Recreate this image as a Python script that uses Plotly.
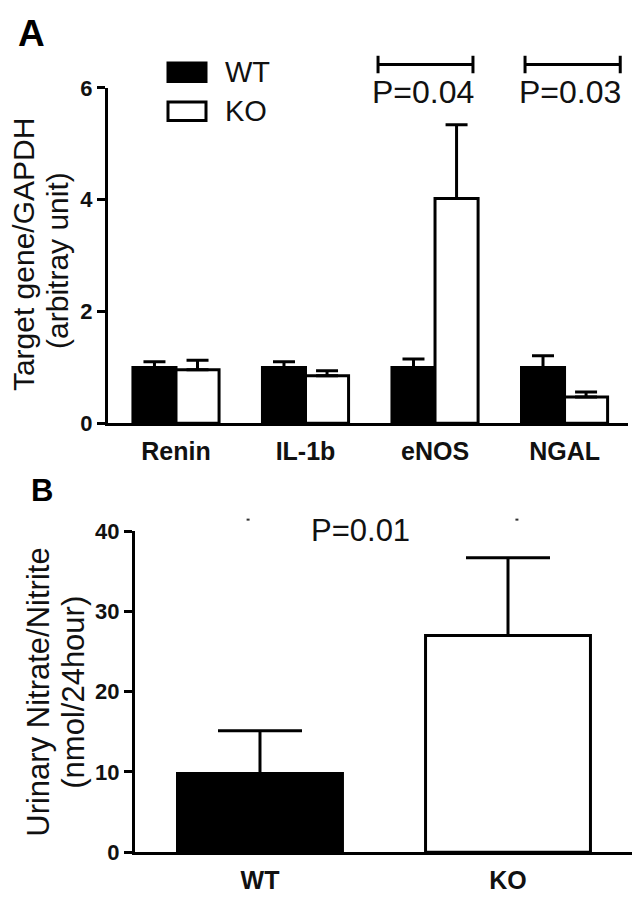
import plotly.graph_objects as go

# ---------------- data ----------------
genes = ["Renin", "IL-1b", "eNOS", "NGAL"]
wt_expr = [1.00, 1.00, 1.00, 1.00]
wt_expr_err_top = [1.10, 1.10, 1.15, 1.21]
ko_expr = [0.96, 0.85, 4.02, 0.47]
ko_expr_err_top = [1.13, 0.94, 5.34, 0.56]
expr_ticks = [0, 2, 4, 6]

groups = ["WT", "KO"]
nitrate = [9.8, 27.0]
nitrate_err_top = [15.15, 36.7]
nitrate_ticks = [0, 10, 20, 30, 40]

pvals_a = ["P=0.04", "P=0.03"]
pval_genes = ["eNOS", "NGAL"]
pval_b = "P=0.01"

# ---------------- helpers ----------------
W, H = 641, 908
def px(x):
    return x / W
def py(y):
    return 1 - y / H

FONT = "Liberation Sans, Arial, Helvetica, sans-serif"
TXT = "#111111"

fig = go.Figure()

# Panel A bars
fig.add_trace(go.Bar(
    x=genes, y=wt_expr, name="WT", xaxis="x", yaxis="y", showlegend=False,
    marker=dict(color="#000000", line=dict(color="#000000", width=3)),
    error_y=dict(type="data", symmetric=False,
                 array=[t - v for t, v in zip(wt_expr_err_top, wt_expr)],
                 arrayminus=[0] * len(wt_expr),
                 color="#000000", thickness=3, width=11),
))
fig.add_trace(go.Bar(
    x=genes, y=ko_expr, name="KO", xaxis="x", yaxis="y", showlegend=False,
    marker=dict(color="#ffffff", line=dict(color="#000000", width=3)),
    error_y=dict(type="data", symmetric=False,
                 array=[t - v for t, v in zip(ko_expr_err_top, ko_expr)],
                 arrayminus=[0] * len(ko_expr),
                 color="#000000", thickness=3, width=11),
))

# Panel B bars
fig.add_trace(go.Bar(
    x=groups, y=nitrate, xaxis="x2", yaxis="y2", showlegend=False,
    marker=dict(color=["#000000", "#ffffff"], line=dict(color="#000000", width=3)),
    error_y=dict(type="data", symmetric=False,
                 array=[t - v for t, v in zip(nitrate_err_top, nitrate)],
                 arrayminus=[0] * len(nitrate),
                 color="#000000", thickness=3, width=42),
))

axis_common = dict(showline=True, linecolor="#000000", linewidth=3,
                   showgrid=False, zeroline=False)

fig.update_layout(
    width=W, height=H,
    margin=dict(l=0, r=0, t=0, b=0),
    paper_bgcolor="#ffffff", plot_bgcolor="#ffffff",
    barmode="group", bargap=0.335, bargroupgap=0,
    hovermode=False,
    xaxis=dict(axis_common, domain=[px(108), px(628)], anchor="y",
               type="category", categoryorder="array", categoryarray=genes,
               range=[-0.525, 3.49], ticks="", ticklabelstandoff=4,
               tickfont=dict(family=FONT, size=25, color=TXT, weight="bold")),
    yaxis=dict(axis_common, domain=[py(423), py(78)], anchor="x",
               range=[0, 6], tickvals=expr_ticks, ticks="outside", ticklen=8,
               tickwidth=3, tickcolor="#000000",
               tickfont=dict(family=FONT, size=22, color=TXT, weight="bold")),
    xaxis2=dict(axis_common, domain=[px(135), px(632)], anchor="y2",
                type="category", categoryorder="array", categoryarray=groups,
                range=[-0.504, 1.5], ticks="", ticklabelstandoff=4,
                tickfont=dict(family=FONT, size=25, color=TXT, weight="bold")),
    yaxis2=dict(axis_common, domain=[py(864), py(534)], anchor="x2",
                range=[0, 40], tickvals=nitrate_ticks, ticks="outside", ticklen=8,
                tickwidth=3, tickcolor="#000000",
                tickfont=dict(family=FONT, size=22, color=TXT, weight="bold")),
)

shapes = []
annotations = []

# Significance brackets panel A (offsets relative to category centre)
bracket_off = {"eNOS": (-0.44, 0.293), "NGAL": (-0.305, 0.43)}
text_off = {"eNOS": -0.09, "NGAL": 0.04}
for g, label in zip(pval_genes, pvals_a):
    c = genes.index(g)
    x0, x1 = c + bracket_off[g][0], c + bracket_off[g][1]
    line = dict(color="#000000", width=3)
    shapes.append(dict(type="line", xref="x", yref="paper", x0=x0, x1=x1,
                       y0=py(54), y1=py(54), line=line))
    for xx in (x0, x1):
        shapes.append(dict(type="line", xref="x", yref="paper", x0=xx, x1=xx,
                           y0=py(45), y1=py(63), line=line))
    annotations.append(dict(text=label, xref="x", yref="paper", x=c + text_off[g],
                            y=py(82), xanchor="center", yanchor="middle",
                            showarrow=False,
                            font=dict(family=FONT, size=32, color=TXT)))

# P value panel B
annotations.append(dict(text=pval_b, xref="x2", yref="paper", x=0.407, y=py(533),
                        xanchor="center", yanchor="middle", showarrow=False,
                        font=dict(family=FONT, size=31, color=TXT)))
# tiny specks in panel B
for xx in (-0.048, 1.036):
    shapes.append(dict(type="line", xref="x2", yref="paper", x0=xx - 0.006,
                       x1=xx + 0.006, y0=py(522), y1=py(522),
                       line=dict(color="#333333", width=2)))

# Legend (panel A)
for name, fill, yc in (("WT", "#000000", 62), ("KO", "#ffffff", 102)):
    shapes.append(dict(type="rect", xref="paper", yref="paper",
                       x0=px(168), x1=px(206), y0=py(yc - 9.5), y1=py(yc + 9.5),
                       fillcolor=fill, line=dict(color="#000000", width=3)))
    annotations.append(dict(text=name, xref="paper", yref="paper", x=px(223),
                            y=py(yc), xanchor="left", yanchor="middle",
                            showarrow=False,
                            font=dict(family=FONT, size=29, color=TXT)))

# Y-axis titles (two lines each)
annotations += [
    dict(text="Target gene/GAPDH", xref="paper", yref="paper", x=px(23), y=py(250),
         textangle=-90, xanchor="center", yanchor="middle", showarrow=False,
         font=dict(family=FONT, size=30, color=TXT)),
    dict(text="(arbitray unit)", xref="paper", yref="paper", x=px(58), y=py(256),
         textangle=-90, xanchor="center", yanchor="middle", showarrow=False,
         font=dict(family=FONT, size=30, color=TXT)),
    dict(text="Urinary Nitrate/Nitrite", xref="paper", yref="paper", x=px(39),
         y=py(700), textangle=-90, xanchor="center", yanchor="middle",
         showarrow=False, font=dict(family=FONT, size=31, color=TXT)),
    dict(text="(nmol/24hour)", xref="paper", yref="paper", x=px(74), y=py(700),
         textangle=-90, xanchor="center", yanchor="middle", showarrow=False,
         font=dict(family=FONT, size=31, color=TXT)),
]

# Panel letters
annotations += [
    dict(text="A", xref="paper", yref="paper", x=px(31), y=py(22),
         xanchor="center", yanchor="middle", showarrow=False,
         font=dict(family=FONT, size=37, color="#000000", weight="bold")),
    dict(text="B", xref="paper", yref="paper", x=px(42), y=py(492),
         xanchor="center", yanchor="middle", showarrow=False,
         font=dict(family=FONT, size=31, color="#000000", weight="bold")),
]

fig.update_layout(shapes=shapes, annotations=annotations)
fig.write_html(
    "out.html",
    config={"displayModeBar": False, "staticPlot": True},
    post_script="document.body.style.margin='0';document.body.style.padding='0';"
                "document.body.style.overflow='hidden';",
)
